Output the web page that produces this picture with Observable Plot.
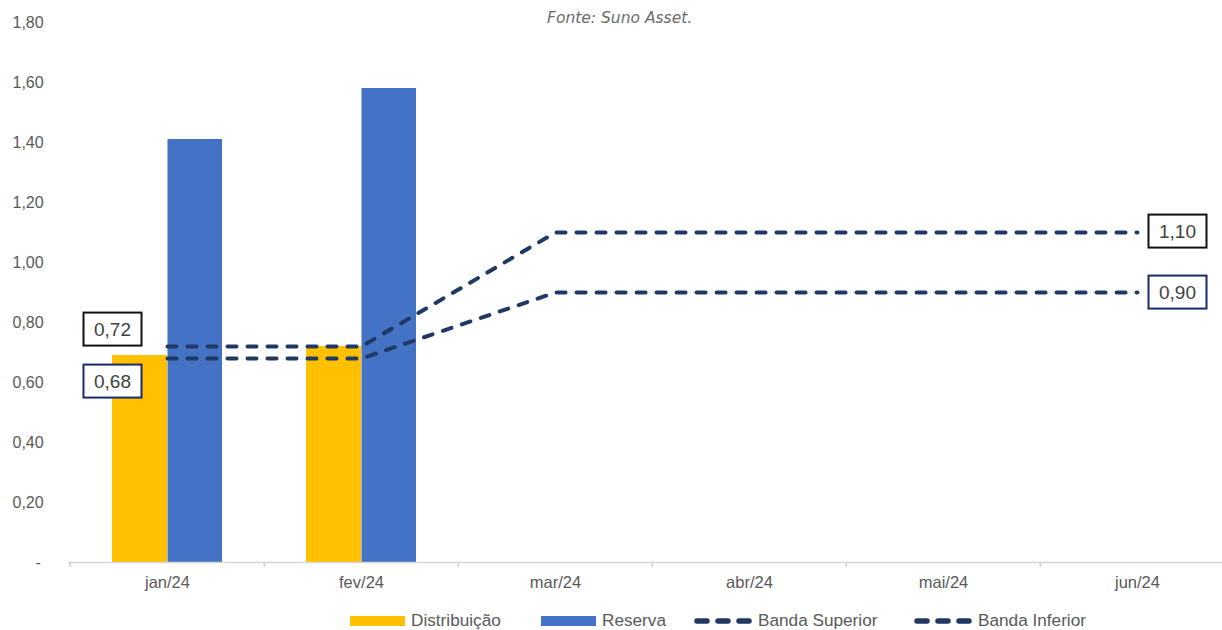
<!DOCTYPE html>
<html>
<head>
<meta charset="utf-8">
<script src="https://cdn.jsdelivr.net/npm/d3@7"></script>
<script src="https://cdn.jsdelivr.net/npm/@observablehq/plot@0.6"></script>
<style>
  body { margin: 0; background: #fff; font-family: "Liberation Sans", Arial, sans-serif; }
  #wrap { position: relative; width: 1222px; height: 630px; overflow: hidden; }
  #chart { position: absolute; left: 0; top: 0; }
  #source { position: absolute; top: 9px; left: 547px; font-family: "DejaVu Sans", sans-serif; font-style: italic; font-size: 15.5px; color: #6b6b6b; white-space: nowrap; }
  #legend { position: absolute; top: 610px; left: 0; width: 1222px; height: 20px; font-size: 17.2px; color: #595959; white-space: nowrap; }
  .item { position: absolute; top: 0; display: flex; align-items: center; }
  .sw { width: 55px; height: 10px; margin-right: 6px; }
  .dash { width: 60px; height: 10px; margin-right: 5px; }
</style>
</head>
<body>
<div id="wrap">
  <div id="chart"></div>
  <div id="source">Fonte: Suno Asset.</div>
  <div id="legend"></div>
</div>
<script>
// Months on the horizontal axis
const months = ["jan/24", "fev/24", "mar/24", "abr/24", "mai/24", "jun/24"];
// Monthly bars (only the first two months were reported)
const barMonths = ["jan/24", "fev/24"];
const distribuicao = [0.69, 0.72];
const reserva = [1.41, 1.58];
// Guidance bands per month
const bandaSuperior = [0.72, 0.72, 1.10, 1.10, 1.10, 1.10];
const bandaInferior = [0.68, 0.68, 0.90, 0.90, 0.90, 0.90];
// Vertical axis ticks
const yTicks = [0, 0.2, 0.4, 0.6, 0.8, 1.0, 1.2, 1.4, 1.6, 1.8];

const YELLOW = "#FFC000";
const BLUE = "#4472C4";
const NAVY = "#1F3864";
const GREY = "#595959";

const fmt = (v) => v.toFixed(2).replace(".", ",");

const distRows = barMonths.map((m, i) => ({ month: m, value: distribuicao[i] }));
const resRows = barMonths.map((m, i) => ({ month: m, value: reserva[i] }));
const supRows = months.map((m, i) => ({ month: m, value: bandaSuperior[i] }));
const infRows = months.map((m, i) => ({ month: m, value: bandaInferior[i] }));

// Value boxes at the start and end of each band
const last = months.length - 1;
const labelRows = [
  { month: months[0], value: bandaSuperior[0], dx: -55, dy: -17, border: "#111" },
  { month: months[0], value: bandaInferior[0], dx: -55, dy: 23, border: "#1a2a6c" },
  { month: months[last], value: bandaSuperior[last], dx: 40, dy: -1, border: "#111" },
  { month: months[last], value: bandaInferior[last], dx: 40, dy: 0, border: "#1a2a6c" }
];

const W = 1222, H = 600;
const bw = 194.5;
const xRange = [68, 68 + months.length * bw];

const dashStyle = { stroke: NAVY, strokeWidth: 4, strokeDasharray: "9,11", strokeLinecap: "round" };

const plot = Plot.plot({
  width: W,
  height: H,
  marginLeft: 68,
  marginRight: 0,
  marginTop: 22,
  marginBottom: 38,
  style: { fontFamily: "'Liberation Sans', Arial, sans-serif", background: "#fff" },
  x: { type: "band", domain: months, range: xRange, padding: 0 },
  y: { domain: [0, 1.8] },
  marks: [
    Plot.barY(distRows, { x: "month", y: "value", fill: YELLOW, insetLeft: 42, insetRight: 97 }),
    Plot.barY(resRows, { x: "month", y: "value", fill: BLUE, insetLeft: 97.5, insetRight: 42 }),
    Plot.ruleY([0], { stroke: "#d6d6d6", strokeWidth: 1.5 }),
    // category separators under the baseline
    Plot.axisX({ tickSize: 5, tickFormat: () => "", dx: -bw / 2, stroke: "#cfcfcf", strokeWidth: 1.5, label: null }),
    Plot.axisX({ tickSize: 0, tickPadding: 14, fontSize: 16.5, fill: GREY, label: null }),
    Plot.axisY(yTicks.filter((t) => t > 0), { anchor: "left", tickSize: 0, tickPadding: 56, textAnchor: "start", tickFormat: fmt, fontSize: 16, fill: GREY, label: null }),
    Plot.axisY([0], { anchor: "left", tickSize: 0, tickPadding: 33, textAnchor: "start", tickFormat: () => "-", fontSize: 16, fill: GREY, label: null }),
    Plot.lineY(supRows, { x: "month", y: "value", ...dashStyle }),
    Plot.lineY(infRows, { x: "month", y: "value", ...dashStyle }),
    ...labelRows.map((r) =>
      Plot.text([r], { x: "month", y: "value", text: (d) => fmt(d.value), dx: r.dx, dy: r.dy, fontSize: 19, fill: "#404040" })
    )
  ]
});

document.getElementById("chart").appendChild(plot);

// Framed boxes behind the value labels
const svg = d3.select(plot);
svg.selectAll('g[aria-label="text"] text').each(function (_, i) {
  const b = this.getBBox();
  const cx = b.x + b.width / 2, cy = b.y + b.height / 2;
  const bw2 = 58, bh = 33;
  d3.select(this.parentNode)
    .insert("rect", () => this)
    .attr("x", cx - bw2 / 2)
    .attr("y", cy - bh / 2)
    .attr("width", bw2)
    .attr("height", bh)
    .attr("fill", "#fff")
    .attr("stroke", labelRows[i].border)
    .attr("stroke-width", 2)
    .attr("transform", this.getAttribute("transform"));
});

// Legend
const legend = d3.select("#legend");
const items = [
  { name: "Distribuição", type: "bar", color: YELLOW, left: 350 },
  { name: "Reserva", type: "bar", color: BLUE, left: 541 },
  { name: "Banda Superior", type: "dash", color: NAVY, left: 693 },
  { name: "Banda Inferior", type: "dash", color: NAVY, left: 913 }
];
items.forEach((it) => {
  const el = legend.append("div").attr("class", "item").style("left", it.left + "px");
  if (it.type === "bar") {
    el.append("div").attr("class", "sw").style("background", it.color);
  } else {
    const s = el.append("svg").attr("class", "dash").attr("width", 60).attr("height", 10);
    s.append("line").attr("x1", 4).attr("x2", 58).attr("y1", 5).attr("y2", 5)
      .attr("stroke", it.color).attr("stroke-width", 5.5)
      .attr("stroke-dasharray", "10,11").attr("stroke-linecap", "round");
  }
  el.append("span").text(it.name);
});
</script>
</body>
</html>
